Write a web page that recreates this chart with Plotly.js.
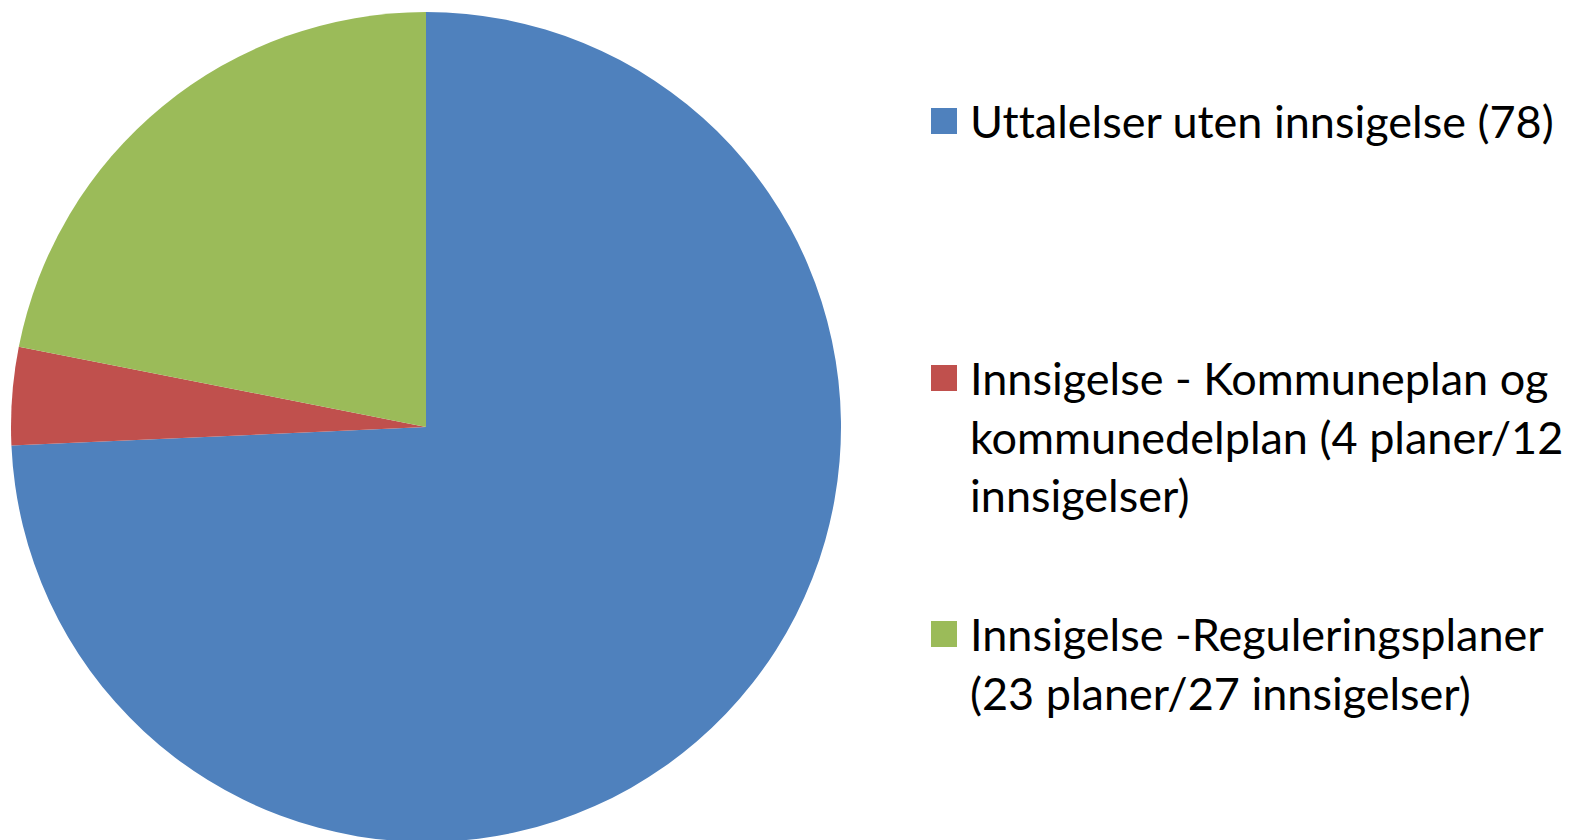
<!DOCTYPE html>
<html>
<head>
<meta charset="utf-8">
<script src="https://cdn.plot.ly/plotly-3.0.1.min.js"></script>
<style>
html,body{margin:0;padding:0;overflow:hidden;background:#fff;}
#chart{width:1569px;height:844px;}
#chart text{font-variant-ligatures:none;font-feature-settings:"liga" 0,"clig" 0;}
</style>
</head>
<body>
<div id="chart"></div>
<script>
const categories = [
  "Uttalelser uten innsigelse (78)",
  "Innsigelse - Kommuneplan og<br>kommunedelplan (4 planer/12<br>innsigelser)",
  "Innsigelse -Reguleringsplaner<br>(23 planer/27 innsigelser)"
];
const values = [78, 4, 23];
const colors = ["#4F81BD", "#C0504D", "#9BBB59"];

const W = 1569, H = 844;
const px = x => x / W;
const py = y => (H - y) / H;

// legend layout (pixel positions of each entry's marker top)
const legendTop = [100, 357, 613];
const legendX = 968;
const fontFam = "Lato, 'Open Sans', sans-serif";
const fontSize = 45;

const annotations = categories.map((c, i) => ({
  text: c,
  xref: "paper", yref: "paper",
  x: px(legendX), y: py(legendTop[i] - 8),
  xanchor: "left", yanchor: "top", align: "left",
  showarrow: false,
  font: {family: fontFam, size: fontSize, color: "#000"}
}));

const shapes = categories.map((c, i) => ({
  type: "rect", xref: "paper", yref: "paper",
  x0: px(931), x1: px(957),
  y0: py(legendTop[i] + 8), y1: py(legendTop[i] + 34),
  fillcolor: colors[i], line: {width: 0}
}));

const trace = {
  type: "pie",
  labels: categories,
  values: values,
  sort: false,
  direction: "clockwise",
  rotation: 0,
  marker: {colors: colors, line: {color: "#ffffff", width: 0}},
  textinfo: "none",
  hoverinfo: "label+value",
  domain: {x: [px(11), px(841)], y: [py(842), py(12)]}
};

Plotly.newPlot("chart", [trace], {
  width: W, height: H,
  margin: {l: 0, r: 0, t: 0, b: 0},
  showlegend: false,
  paper_bgcolor: "#fff",
  annotations: annotations,
  shapes: shapes
}, {displayModeBar: false, staticPlot: true});
</script>
</body>
</html>
